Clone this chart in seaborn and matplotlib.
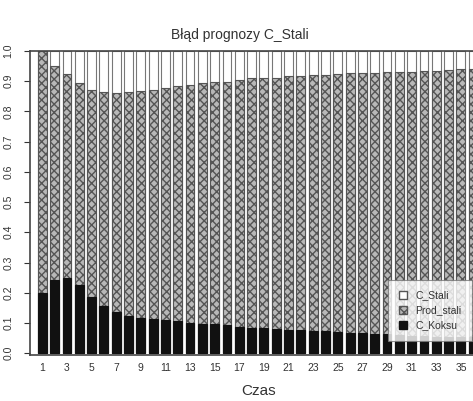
import matplotlib
matplotlib.use("Agg")
import matplotlib.pyplot as plt
import matplotlib.patches as mpatches
import pandas as pd
import seaborn as sns

# values (share of each component, 36 time steps)
czas = [str(i) for i in range(1, 37)]
c_koksu = [0.200, 0.243, 0.250, 0.227, 0.185, 0.155, 0.135, 0.123, 0.118, 0.113,
           0.109, 0.106, 0.100, 0.098, 0.095, 0.092, 0.087, 0.084, 0.083, 0.081,
           0.078, 0.077, 0.075, 0.073, 0.070, 0.068, 0.066, 0.064, 0.062, 0.060,
           0.058, 0.057, 0.055, 0.054, 0.053, 0.052]
prod_stali = [0.800, 0.706, 0.673, 0.668, 0.687, 0.710, 0.726, 0.742, 0.750, 0.759,
              0.770, 0.777, 0.789, 0.796, 0.801, 0.807, 0.817, 0.825, 0.829, 0.831,
              0.838, 0.840, 0.845, 0.849, 0.853, 0.858, 0.861, 0.864, 0.867, 0.870,
              0.874, 0.877, 0.880, 0.883, 0.886, 0.888]
c_stali = [0.000, 0.051, 0.077, 0.105, 0.128, 0.135, 0.139, 0.135, 0.132, 0.128,
           0.121, 0.117, 0.111, 0.106, 0.104, 0.101, 0.096, 0.091, 0.088, 0.088,
           0.084, 0.083, 0.080, 0.078, 0.077, 0.074, 0.073, 0.072, 0.071, 0.070,
           0.068, 0.066, 0.065, 0.063, 0.061, 0.060]
labels = ["C_Stali", "Prod_stali", "C_Koksu"]

df = pd.DataFrame({"czas": czas, "C_Koksu": c_koksu,
                   "Prod_stali": prod_stali, "C_Stali": c_stali})
df["mid"] = df["C_Koksu"] + df["Prod_stali"]
df["top"] = df["mid"] + df["C_Stali"]

sns.set_style("white")
plt.rcParams["font.family"] = ["Liberation Sans", "DejaVu Sans"]
TXT = "#333333"
EDGE = "#555555"
HATCH_FC = "#b8b8b8"

fig = plt.figure(figsize=(4.73, 4.01), dpi=100)
ax = fig.add_axes([30 / 473, 1 - 355 / 401, 458 / 473, 304 / 401])

bw = 0.72
sns.barplot(data=df, x="czas", y="top", order=czas, color="white",
            edgecolor="#777777", linewidth=0.8, width=bw, saturation=1, ax=ax)
sns.barplot(data=df, x="czas", y="mid", order=czas, color=HATCH_FC,
            edgecolor=EDGE, linewidth=0.8, width=bw, saturation=1,
            hatch="xxxx", ax=ax)
sns.barplot(data=df, x="czas", y="C_Koksu", order=czas, color="#111111",
            edgecolor="#111111", linewidth=0.8, width=bw, saturation=1, ax=ax)

ax.set_xlim(-1.0, 36.2)
ax.set_ylim(-0.006, 1.0)
ax.set_xticks(range(0, 36, 2))
ax.set_xticklabels(czas[::2], fontsize=7.5, color=TXT)
ax.set_yticks([i / 10 for i in range(11)])
ax.set_yticklabels([f"{i / 10:.1f}" for i in range(11)], rotation=90,
                   va="center", fontsize=7.5, color=TXT)
ax.tick_params(axis="x", length=0, pad=6)
ax.tick_params(axis="y", length=4, width=0.8, color=TXT, pad=8, left=True)
ax.set_xlabel("Czas", fontsize=11, color=TXT, labelpad=8)
ax.set_ylabel("")
for side in ["left", "top", "bottom"]:
    ax.spines[side].set_color("#444444")
    ax.spines[side].set_linewidth(1.2)
ax.spines["right"].set_visible(False)

fig.text(240 / 473, 1 - 35 / 401, "Błąd prognozy C_Stali", ha="center",
         va="center", fontsize=10, color=TXT)

handles = [
    mpatches.Patch(facecolor="white", edgecolor=EDGE, label=labels[0]),
    mpatches.Patch(facecolor=HATCH_FC, edgecolor=EDGE, hatch="xxxx", label=labels[1]),
    mpatches.Patch(facecolor="#111111", edgecolor="#111111", label=labels[2]),
]
leg = ax.legend(handles=handles, loc="lower right",
                bbox_to_anchor=(472 / 473, 1 - 341 / 401),
                bbox_transform=fig.transFigure, fontsize=7.5, frameon=True,
                fancybox=False, handlelength=0.8, handleheight=0.8,
                handletextpad=0.8, labelspacing=0.5, borderpad=1.0,
                borderaxespad=0, labelcolor=TXT)
leg.get_frame().set_edgecolor("#777777")
leg.get_frame().set_linewidth(0.8)

fig.savefig("out.png", dpi=100)
